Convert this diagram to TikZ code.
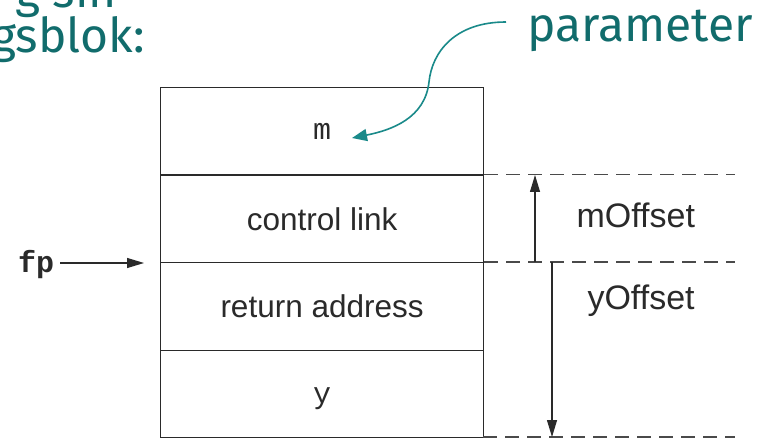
\documentclass[tikz,border=0pt]{standalone}
\usepackage{fontspec}
\setmainfont{Liberation Sans}
\newfontfamily\monof{Liberation Mono}
\newfontfamily\handf{Fira Sans}
\usetikzlibrary{arrows.meta}
\definecolor{tealtxt}{HTML}{116C6C}
\definecolor{tealline}{HTML}{1A8A8A}
\definecolor{ink}{HTML}{2A2A2A}
\tikzset{
  cell/.style={draw=ink, line width=1.1pt, minimum width=323pt, minimum height=87.5pt, inner sep=0pt, anchor=north west},
  celltxt/.style={font=\fontsize{31.5}{31.5}\selectfont, text=ink},
  offtxt/.style={font=\fontsize{34}{34}\selectfont, text=ink},
  monotxt/.style={font=\monof\fontsize{30}{30}\selectfont, text=ink},
  guide/.style={draw=ink!85, line width=1.1pt, dash pattern=on 14pt off 8pt},
  dimarrow/.style={draw=ink, line width=1.1pt, -{Triangle[length=17pt,width=10pt]}},
  handtxt/.style={font=\handf\fontsize{48}{48}\selectfont, text=tealtxt, inner sep=0pt},
}
\begin{document}
\begin{tikzpicture}[x=1pt,y=-1pt]
\useasboundingbox (0,0) rectangle (762,438);
\clip (0,0) rectangle (762,438);
\fill[white] (0,0) rectangle (762,438);
% stack cells
\node[cell] (c1) at (160,87) {};
\node[cell] (c2) at (160,174.5) {};
\node[cell] (c3) at (160,262) {};
\node[cell] (c4) at (160,349.5) {};
\node[monotxt] (tm) at (c1.center) {m};
\node[celltxt] (tc) at (c2.center) {control link};
\node[celltxt] (tr) at (c3.center) {return address};
\node[monotxt] (ty) at ([yshift=-5pt]c4.center) {y};
% guide lines
\coordinate (g1e) at (735,174.5);
\coordinate (g2e) at (735,262);
\coordinate (g3e) at (735,437);
\coordinate (g3s) at (483,437);
\draw[guide] (c2.north east) -- (g1e);
\draw[guide] (c3.north east) -- (g2e);
\draw[guide] (g3s) -- (g3e);
% dimension arrows
\coordinate (m0) at (535,262);
\coordinate (m1) at (535,175);
\coordinate (y0) at (552,262);
\coordinate (y1) at (552,437);
\draw[dimarrow] (m0) -- (m1);
\draw[dimarrow] (y0) -- (y1);
\node[offtxt, anchor=base west] (mo) at (573,227) {mOffset};
\node[offtxt, anchor=base west] (yo) at (584,309) {yOffset};
% fp
\node[font=\monof\bfseries\fontsize{30}{30}\selectfont, text=ink, anchor=base west, inner sep=0pt] (fp) at (18,272) {fp};
\coordinate (fpend) at (144,263);
\draw[dimarrow, shorten <=6pt] (fp.east |- fpend) -- (fpend);
% handwritten annotations
\node[handtxt, anchor=base west] (par) at (527,42) {parameter};
\node[handtxt, anchor=base east] (gs) at (145,53) {gsblok:};
\node[handtxt, anchor=base east] (gsin) at (117,8) {g sin};
\coordinate (pstart) at (506,22);
\coordinate (ptip) at (352,138);
\draw[tealline, line width=1.6pt, -{Triangle[length=15pt,width=12pt]}]
  (pstart) .. controls (455,22) and (432,52) .. (429,82)
  .. controls (425,118) and (392,130) .. (ptip);
\end{tikzpicture}
\end{document}
